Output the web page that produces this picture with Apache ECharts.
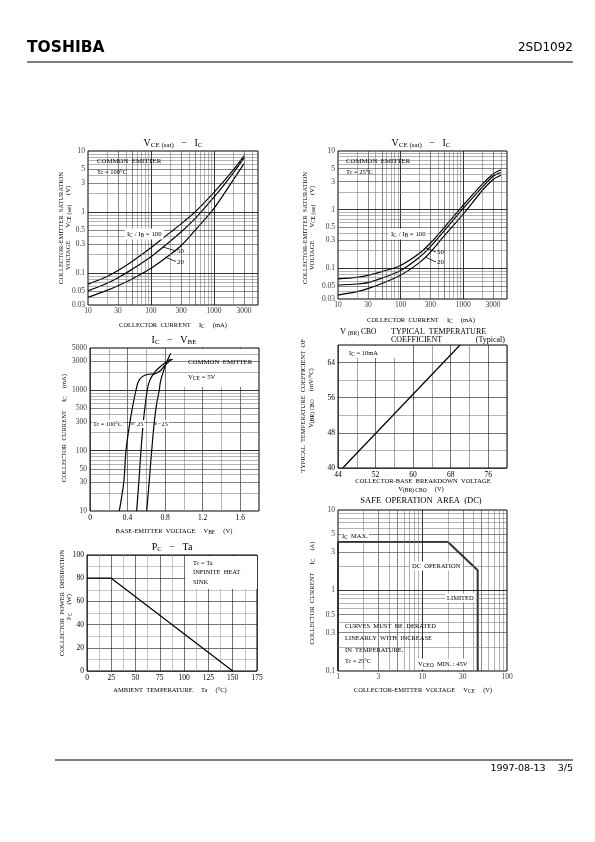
<!DOCTYPE html>
<html><head><meta charset="utf-8">
<script src="https://cdn.jsdelivr.net/npm/echarts@6/dist/echarts.min.js"></script>
<style>html,body{margin:0;padding:0;background:#fff}#c{width:595px;height:842px}</style>
</head><body><div id="c"></div>
<script>
// ===== DATA =====
// VCE(sat) - IC, Tc = 100°C  [IC (mA), VCE(sat) (V)]
const sat100_r100 = [[10,0.066],[20,0.088],[30,0.11],[50,0.155],[100,0.26],[200,0.46],[300,0.64],[500,1.0],[1000,2.1],[2000,4.8],[3000,8.3]];
const sat100_r50  = [[10,0.051],[20,0.068],[30,0.084],[50,0.115],[100,0.185],[200,0.33],[300,0.47],[500,0.78],[1000,1.75],[2000,4.3],[3000,7.7]];
const sat100_r20  = [[10,0.040],[20,0.052],[30,0.062],[50,0.08],[100,0.12],[200,0.2],[300,0.28],[500,0.5],[1000,1.15],[2000,3.3],[3000,6.2]];
// VCE(sat) - IC, Tc = 25°C
const sat25_r100 = [[10,0.066],[20,0.07],[30,0.076],[50,0.088],[100,0.112],[200,0.18],[300,0.27],[500,0.5],[1000,1.19],[2000,2.7],[3000,4.06],[4000,4.8]];
const sat25_r50  = [[10,0.052],[20,0.054],[30,0.057],[50,0.068],[100,0.092],[200,0.155],[300,0.234],[500,0.44],[1000,1.05],[2000,2.4],[3000,3.7],[4000,4.3]];
const sat25_r20  = [[10,0.035],[20,0.04],[30,0.045],[50,0.055],[100,0.076],[200,0.125],[300,0.189],[500,0.36],[1000,0.84],[2000,2.1],[3000,3.27],[4000,3.87]];
// IC - VBE, VCE = 5V  [VBE (V), IC (mA)]
const vbe_100 = [[0.312,10],[0.36,30],[0.383,100],[0.426,300],[0.46,600],[0.49,1000],[0.514,1380],[0.557,1680],[0.621,1840],[0.685,1870],[0.75,2100],[0.8,2600],[0.88,3300]];
const vbe_25  = [[0.497,10],[0.52,30],[0.543,100],[0.568,300],[0.59,600],[0.61,1000],[0.625,1300],[0.657,1680],[0.71,2160],[0.781,2700],[0.834,3100],[0.86,3300]];
const vbe_m25 = [[0.604,10],[0.63,30],[0.657,100],[0.685,300],[0.71,600],[0.738,1000],[0.75,1380],[0.781,2030],[0.817,2950],[0.86,4100]];
// V(BR)CBO temperature coefficient [V(BR)CBO (V), mV/°C]
const tempCoef = [[45,40],[70,68]];
// PC - Ta [Ta (°C), PC (W)]
const pcTa = [[0,80],[25,80],[150,0]];
// Safe operating area [VCE (V), IC (A)]
const soa = [[1,0.1],[1,4],[20,4],[45,1.78],[45,0.1]];

// tick labels
const vceXTicks = [10,30,100,300,1000,3000];
const vceYTicks = [0.03,0.05,0.1,0.3,0.5,1,3,5,10];
const vbeYTicks = [10,30,50,100,300,500,1000,3000,5000];
const soaXTicks = [1,3,10,30,100];
const soaYTicks = [0.1,0.3,0.5,1,3,5,10];

// ===== CHART =====
const chart = echarts.init(document.getElementById('c'), null, {width:595, height:842});
const F = 'Liberation Serif';
const S = 'DejaVu Sans';

function logLines(lo, hi) {
  const out = [];
  for (let e = -3; e <= 4; e++) for (let m = 1; m <= 9; m++) {
    const v = +(m * Math.pow(10, e)).toPrecision(3);
    if (v > lo * 1.0001 && v < hi * 0.9999) out.push({v, m});
  }
  return out;
}
function lineStyleFor(m) {
  if (m === 1) return {color:'#000', width:0.8, type:'solid'};
  if (m === 3 || m === 5) return {color:'#222', width:0.55, type:'solid'};
  return {color:'#666', width:0.5, type:'solid'};
}
function gridSeries(i, xr, yr, doX, doY) {
  const data = [];
  if (doX) logLines(xr[0], xr[1]).forEach(o => data.push({xAxis:o.v, lineStyle:lineStyleFor(o.m)}));
  if (doY) logLines(yr[0], yr[1]).forEach(o => data.push({yAxis:o.v, lineStyle:lineStyleFor(o.m)}));
  return {type:'line', xAxisIndex:i, yAxisIndex:i, z:1, silent:true, symbol:'none',
    data:[[xr[0], yr[0]]], lineStyle:{width:0, opacity:0},
    markLine:{silent:true, symbol:['none','none'], label:{show:false}, emphasis:{disabled:true}, animation:false, data}};
}
function tickSeries(i, pts, pos, idx) {
  return {type:'scatter', xAxisIndex:i, yAxisIndex:i, z:5, silent:true, clip:false,
    symbol:'circle', symbolSize:1, itemStyle:{color:'rgba(0,0,0,0)'},
    data:pts, emphasis:{disabled:true},
    label:{show:true, position:pos, distance:pos === 'left' ? 2.5 : 2, fontSize:7.5, fontFamily:F, color:'#000',
      formatter:p => String(p.value[idx])}};
}
function curve(i, data, w) {
  return {type:'line', xAxisIndex:i, yAxisIndex:i, z:4, silent:true, symbol:'none', smooth:0.3,
    data, lineStyle:{color:'#000', width:w || 1.2}};
}
function logAxis(i, min, max) {
  return {type:'log', logBase:10, gridIndex:i, min, max, axisLine:{show:false}, axisTick:{show:false},
    axisLabel:{show:false}, splitLine:{show:false}};
}
function linAxis(i, min, max, interval, fmt, colors) {
  return {type:'value', gridIndex:i, min, max, interval, axisLine:{show:false}, axisTick:{show:false},
    axisLabel:{fontSize:7.5, fontFamily:F, color:'#000', margin:3, formatter:fmt},
    splitLine:{show:true, lineStyle:{color:colors, width:0.55}}};
}

const grids = [
  {left:88, top:151, width:170, height:154},
  {left:338, top:151, width:169, height:148},
  {left:90, top:348, width:169, height:163},
  {left:338, top:345, width:169, height:123},
  {left:87, top:555, width:170, height:116},
  {left:338, top:510, width:169, height:161}
].map(g => Object.assign({show:true, borderColor:'#000', borderWidth:1, backgroundColor:'#fff'}, g));

const xAxis = [
  logAxis(0, 10, 5000),
  logAxis(1, 10, 5000),
  linAxis(2, 0, 1.8, 0.2, v => (Math.round(v*10) % 4 === 0 && v < 1.75) ? (v === 0 ? '0' : v.toFixed(1)) : '', ['#000','#777']),
  linAxis(3, 44, 80, 4, v => ((v - 44) % 8 === 0 && v < 80) ? String(v) : '', ['#000','#555']),
  linAxis(4, 0, 175, 12.5, v => (v % 25 === 0) ? String(v) : '', ['#000','#999']),
  logAxis(5, 1, 100)
];
const yAxis = [
  logAxis(0, 0.03, 10),
  logAxis(1, 0.03, 10),
  logAxis(2, 10, 5000),
  linAxis(3, 40, 68, 4, v => ((v - 40) % 8 === 0 && v < 68) ? String(v) : '', ['#000','#777']),
  linAxis(4, 0, 100, 10, v => (v % 20 === 0) ? String(v) : '', ['#000','#999']),
  logAxis(5, 0.1, 10)
];

const series = [
  gridSeries(0, [10,5000], [0.03,10], true, true),
  gridSeries(1, [10,5000], [0.03,10], true, true),
  gridSeries(2, [0,1.8], [10,5000], false, true),
  gridSeries(5, [1,100], [0.1,10], true, true),
  tickSeries(0, vceXTicks.map(v => [v, 0.03]), 'bottom', 0),
  tickSeries(0, vceYTicks.map(v => [10, v]), 'left', 1),
  tickSeries(1, vceXTicks.map(v => [v, 0.03]), 'bottom', 0),
  tickSeries(1, vceYTicks.map(v => [10, v]), 'left', 1),
  tickSeries(2, vbeYTicks.map(v => [0, v]), 'left', 1),
  tickSeries(5, soaXTicks.map(v => [v, 0.1]), 'bottom', 0),
  tickSeries(5, soaYTicks.map(v => [1, v]), 'left', 1),
  curve(0, sat100_r100), curve(0, sat100_r50), curve(0, sat100_r20),
  curve(1, sat25_r100), curve(1, sat25_r50), curve(1, sat25_r20),
  curve(2, vbe_100), curve(2, vbe_25), curve(2, vbe_m25),
  Object.assign(curve(3, tempCoef), {smooth:false}),
  Object.assign(curve(4, pcTa), {smooth:false}),
  Object.assign(curve(5, soa, 2), {smooth:false, clip:false, lineStyle:{color:'#333', width:2}})
];

const R = {
  s:{fontSize:5.5, fontFamily:F, padding:[3,0,0,0]},
  b:{fontSize:10, fontFamily:F},
  bs:{fontSize:7, fontFamily:F, padding:[4,0,0,0]},
  m:{fontSize:8.5, fontFamily:F}
};
function T(x, y, text, o) {
  o = o || {};
  const el = {type:'text', x, y, z:6, silent:true, rotation:o.rot || 0,
    style:{text, fontFamily:o.font || F, fontSize:o.size || 7, fontWeight:o.weight || 'normal', fill:'#000',
      align:o.align || 'left', verticalAlign:'middle', rich:R}};
  if (o.bg) { el.style.backgroundColor = '#fff'; el.style.padding = o.pad || [1,2]; }
  return el;
}
function box(x, y, w, h) {
  return {type:'rect', z:3, silent:true, shape:{x, y, width:w, height:h}, style:{fill:'#fff'}};
}
function L(x1, y1, x2, y2, w) {
  return {type:'line', z:6, silent:true, shape:{x1, y1, x2, y2}, style:{stroke:'#000', lineWidth:w || 0.8}};
}
const VR = Math.PI / 2;
const g = [
  // header / footer
  T(27, 48, 'TOSHIBA', {font:S, size:15.5, weight:'bold'}),
  T(573, 48, '2SD1092', {font:S, size:12, align:'right'}),
  L(27, 62, 573, 62, 1.2),
  L(55, 760, 573, 760, 1.2),
  T(573, 769, '1997-08-13    3/5', {font:S, size:9.5, align:'right'}),

  // chart 1
  box(89, 152, 79, 48),
  T(173, 143, '{b|V}{bs|CE (sat)}{b|   −   I}{bs|C}', {align:'center'}),
  T(97, 161, 'COMMON  EMITTER', {size:6.8}),
  T(97, 172, 'Tc = 100°C', {size:6.5}),
  T(125, 234, 'I{s|C} / I{s|B} = 100', {size:6.8, bg:true}),
  L(163, 247, 176, 251), T(177, 251, '50', {size:6.8}),
  L(165, 257, 176, 261.5), T(177, 262, '20', {size:6.8}),
  T(173, 325, 'COLLECTOR  CURRENT     I{s|C}     (mA)', {align:'center', size:6.5}),
  T(61, 228, 'COLLECTOR-EMITTER  SATURATION', {align:'center', size:6.5, rot:VR}),
  T(68, 228, 'VOLTAGE        V{s|CE (sat)}      (V)', {align:'center', size:6.5, rot:VR}),

  // chart 2
  box(339, 152, 75, 46),
  T(421, 143, '{b|V}{bs|CE (sat)}{b|   −   I}{bs|C}', {align:'center'}),
  T(346, 161, 'COMMON  EMITTER', {size:6.8}),
  T(346, 172, 'Tc = 25°C', {size:6.5}),
  T(389, 234, 'I{s|C} / I{s|B} = 100', {size:6.8, bg:true}),
  L(426, 248, 436, 252), T(437, 252, '50', {size:6.8}),
  L(425, 257, 436, 262), T(437, 262, '20', {size:6.8}),
  T(421, 320, 'COLLECTOR  CURRENT     I{s|C}     (mA)', {align:'center', size:6.5}),
  T(305, 228, 'COLLECTOR-EMITTER  SATURATION', {align:'center', size:6.5, rot:VR}),
  T(312, 228, 'VOLTAGE        V{s|CE (sat)}      (V)', {align:'center', size:6.5, rot:VR}),

  // chart 3
  box(184, 349, 74, 38),
  T(174, 340, '{b|I}{bs|C}{b|   −   V}{bs|BE}', {align:'center'}),
  T(188, 362, 'COMMON  EMITTER', {size:6.8}),
  T(188, 377, 'V{s|CE} = 5V', {size:6.8}),
  T(92, 424, 'Tc = 100°C', {size:6.3, bg:true, pad:[1,1]}),
  T(136, 424, '25', {size:6.3, bg:true, pad:[1,1]}),
  L(131, 424, 134, 424, 0.7),
  T(157, 424, '−25', {size:6.3, bg:true, pad:[1,1]}),
  L(154, 424, 157, 424, 0.7),
  T(174, 531, 'BASE-EMITTER  VOLTAGE     V{s|BE}     (V)', {align:'center', size:6.5}),
  T(64, 428, 'COLLECTOR  CURRENT     I{s|C}     (mA)', {align:'center', size:6.5, rot:VR}),

  // chart 4
  box(339, 346, 56, 12),
  T(340, 332, '{m|V} {s|(BR)} CBO', {size:7.5}),
  T(391, 332, 'TYPICAL  TEMPERATURE', {size:8}),
  T(391, 340, 'COEFFICIENT', {size:8}),
  T(505, 340, '(Typical)', {size:8, align:'right'}),
  T(349, 353, 'I{s|C} = 10mA', {size:6.5}),
  T(423, 481, 'COLLECTOR-BASE  BREAKDOWN  VOLTAGE', {align:'center', size:6.5}),
  T(421, 489, 'V{s|(BR) CBO}     (V)', {align:'center', size:6.5}),
  T(303, 406, 'TYPICAL  TEMPERATURE  COEFFICIENT  OF', {align:'center', size:6.5, rot:VR}),
  T(311, 398, 'V{s|(BR) CBO}     (mV/°C)', {align:'center', size:6.5, rot:VR}),

  // chart 5
  box(185, 556, 72, 33),
  T(172, 547, '{b|P}{bs|C}{b|   −   Ta}', {align:'center'}),
  T(193, 563, 'Tc = Ta', {size:6.5}),
  T(193, 572, 'INFINITE  HEAT', {size:6.5}),
  T(193, 582, 'SINK', {size:6.5}),
  T(170, 690, 'AMBIENT  TEMPERATURE     Ta     (°C)', {align:'center', size:6.5}),
  T(62, 603, 'COLLECTOR  POWER  DISSIPATION', {align:'center', size:6.5, rot:VR}),
  T(69, 607, 'P{s|C}     (W)', {align:'center', size:6.5, rot:VR}),

  // chart 6
  box(340, 617, 109, 53),
  T(421, 501, 'SAFE  OPERATION  AREA  (DC)', {align:'center', size:8.5}),
  T(341, 536, 'I{s|C}  MAX.', {size:6.5, bg:true, pad:[0,1]}),
  T(410, 566, 'DC  OPERATION', {size:6.5, bg:true}),
  T(445, 598, 'LIMITED', {size:6.5, bg:true}),
  T(345, 626, 'CURVES  MUST  BE  DERATED', {size:6.5}),
  T(345, 638, 'LINEARLY  WITH  INCREASE', {size:6.5}),
  T(345, 650, 'IN  TEMPERATURE.', {size:6.5}),
  T(345, 661, 'Tc = 25°C', {size:6.3}),
  T(416, 664, 'V{s|CEO}  MIN. : 45V', {size:6.5, bg:true}),
  T(423, 690, 'COLLECTOR-EMITTER  VOLTAGE     V{s|CE}     (V)', {align:'center', size:6.5}),
  T(312, 593, 'COLLECTOR  CURRENT     I{s|C}     (A)', {align:'center', size:6.5, rot:VR})
];

chart.setOption({
  animation:false,
  backgroundColor:'#fff',
  grid:grids,
  xAxis, yAxis, series,
  graphic:{elements:g}
});
</script></body></html>
